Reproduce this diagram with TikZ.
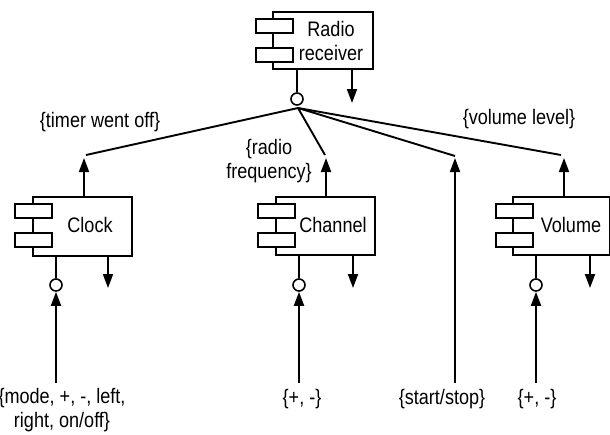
\documentclass[tikz,border=0pt]{standalone}
\usepackage{fontspec}
\setmainfont[FakeStretch=0.86]{Liberation Sans}
\usetikzlibrary{arrows.meta}
\begin{document}
\begin{tikzpicture}[x=1pt,y=-1pt,
  every node/.style={font=\fontsize{21}{23.5}\selectfont},
  comp/.style={draw, line width=1.7pt, fill=white, inner sep=0, anchor=north west},
  tabrect/.style={draw, line width=1.7pt, fill=white, minimum width=37pt, minimum height=14pt, inner sep=0, anchor=north west},
  port/.style={circle, draw, line width=1.6pt, fill=white, minimum size=12pt, inner sep=0},
  lbl/.style={inner sep=0, align=center},
  conn/.style={line width=1.9pt},
  arr/.style={line width=1.9pt, -{Triangle[length=14pt,width=10pt]}}]
\useasboundingbox (0,0) rectangle (610,434);

% Radio receiver
\node[comp, minimum width=100pt, minimum height=57pt] (radio) at (272,11) {};
\node[tabrect] (rtab1) at (255,18) {};
\node[tabrect] (rtab2) at (255,47) {};
\node[lbl] (radiot) at (331,41) {Radio\\receiver};
\node[port] (rport) at (297,99) {};
\draw[conn] (rport.north) -- (rport.north |- radio.south);
\coordinate (rdown) at (352,103);
\draw[arr] (rdown |- radio.south) -- (rdown);
\coordinate (hub) at (298,108);

% Clock
\node[comp, minimum width=99pt, minimum height=59pt] (clock) at (32,196) {};
\node[tabrect] (ctab1) at (14,203) {};
\node[tabrect] (ctab2) at (14,232) {};
\node[lbl] (clockt) at (90,225) {Clock};
\node[port] (cport) at (56,285) {};
\draw[conn] (cport.north) -- (cport.north |- clock.south);
\coordinate (cdown) at (108,288);
\draw[arr] (cdown |- clock.south) -- (cdown);
\coordinate (ctip) at (84,158);
\draw[arr] (ctip |- clock.north) -- (ctip);
\coordinate (cend) at (86,155);
\draw[conn] (hub) -- (cend);
\coordinate (cin) at (56,383);
\draw[arr] (cin) -- (cport.south);

% Channel
\node[comp, minimum width=99pt, minimum height=58pt] (chan) at (275,196) {};
\node[tabrect] (htab1) at (257,203) {};
\node[tabrect] (htab2) at (257,232) {};
\node[lbl] (chant) at (333,225) {Channel};
\node[port] (hport) at (299,285) {};
\draw[conn] (hport.north) -- (hport.north |- chan.south);
\coordinate (hdown) at (353,288);
\draw[arr] (hdown |- chan.south) -- (hdown);
\coordinate (htip) at (326,158);
\draw[arr] (htip |- chan.north) -- (htip);
\coordinate (hend) at (325,155);
\draw[conn] (hub) -- (hend);
\coordinate (hin) at (299,383);
\draw[arr] (hin) -- (hport.south);

% start/stop
\coordinate (sin) at (455,383);
\coordinate (stip) at (455,158);
\draw[arr] (sin) -- (stip);
\coordinate (send) at (455,156);
\draw[conn] (hub) -- (send);

% Volume
\node[comp, minimum width=97pt, minimum height=58pt] (vol) at (512,196) {};
\node[tabrect] (vtab1) at (495,203) {};
\node[tabrect] (vtab2) at (495,232) {};
\node[lbl] (volt) at (571,225) {Volume};
\node[port] (vport) at (536,285) {};
\draw[conn] (vport.north) -- (vport.north |- vol.south);
\coordinate (vdown) at (590,288);
\draw[arr] (vdown |- vol.south) -- (vdown);
\coordinate (vtip) at (564,158);
\draw[arr] (vtip |- vol.north) -- (vtip);
\coordinate (vend) at (561,155);
\draw[conn] (hub) -- (vend);
\coordinate (vin) at (536,383);
\draw[arr] (vin) -- (vport.south);

% labels
\node[lbl] (ltimer) at (100,122) {\{timer went off\}};
\node[lbl] (lfreq) at (269,161) {\{radio\\frequency\}};
\node[lbl] (lvol) at (519,119) {\{volume level\}};
\node[lbl] (lmode) at (62,410) {\{mode, +, -, left,\\right, on/off\}};
\node[lbl] (lch) at (302,399) {\{+, -\}};
\node[lbl] (lss) at (442,399) {\{start/stop\}};
\node[lbl] (lvv) at (537,399) {\{+, -\}};
\end{tikzpicture}
\end{document}
